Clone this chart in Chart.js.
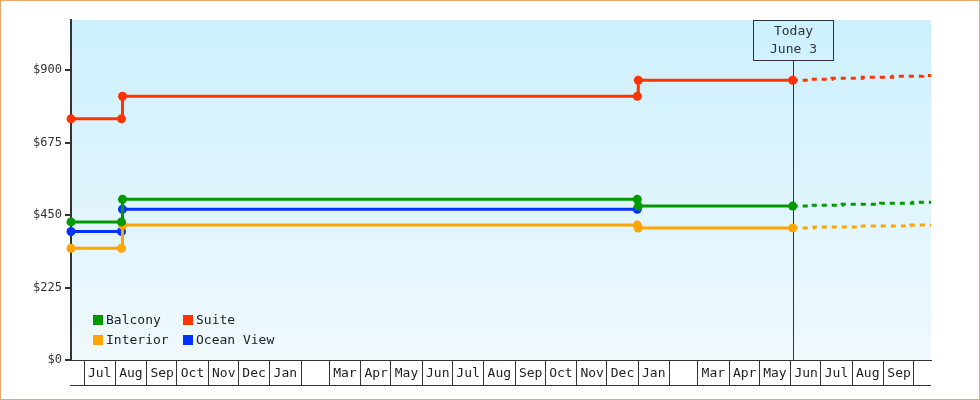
<!DOCTYPE html>
<html>
<head>
<meta charset="utf-8">
<script src="https://cdn.jsdelivr.net/npm/chart.js@4/dist/chart.umd.min.js"></script>
<style>
  html, body { margin: 0; padding: 0; background: #fff; }
  #wrap { width: 980px; height: 400px; }
</style>
</head>
<body>
<div id="wrap"><canvas id="c" width="980" height="400"></canvas></div>
<script>
// --- data (dates as yyyy-mm-dd, prices in dollars) ---
var balconyDates = ['2013-06-18','2013-08-07','2013-08-08','2014-12-31','2015-01-01','2015-06-03','2015-06-20','2015-07-22','2015-08-29','2015-09-30','2015-10-18'];
var balconyPrices = [429, 429, 499, 499, 478, 478, 481, 484, 487, 490, 490];

var suiteDates = ['2013-06-18','2013-08-07','2013-08-08','2014-12-31','2015-01-01','2015-06-03','2015-06-19','2015-07-12','2015-08-11','2015-09-10','2015-10-10','2015-10-18'];
var suitePrices = [749, 749, 819, 819, 869, 869, 872, 875, 878, 881, 884, 884];

var interiorDates = ['2013-06-18','2013-08-07','2013-08-08','2014-12-31','2015-01-01','2015-06-03','2015-06-24','2015-08-09','2015-09-28','2015-10-18'];
var interiorPrices = [347, 347, 419, 419, 410, 410, 413, 416, 419, 419];

var oceanDates = ['2013-06-18','2013-08-07','2013-08-08','2014-12-31'];
var oceanPrices = [399, 399, 468, 468];

var monthLabels = ['Jul','Aug','Sep','Oct','Nov','Dec','Jan','','Mar','Apr','May','Jun','Jul','Aug','Sep','Oct','Nov','Dec','Jan','','Mar','Apr','May','Jun','Jul','Aug','Sep',''];
var yTicks = [0, 225, 450, 675, 900];
var startDate = '2013-06-18', endDate = '2015-10-18', todayDate = '2015-06-03';
var todayText = ['Today', 'June 3'];

function day(s) {
  var p = s.split('-');
  return Date.UTC(+p[0], +p[1] - 1, +p[2]) / 86400000;
}
function pts(dates, prices) {
  return dates.map(function (d, i) { return { x: day(d), y: prices[i] }; });
}
var today = day(todayDate);
var monthStarts = monthLabels.map(function (l, i) { return Date.UTC(2013, 6 + i, 1) / 86400000; });

var FONT = '"DejaVu Sans Mono", monospace';

function series(label, color, dates, prices) {
  return {
    label: label,
    data: pts(dates, prices),
    borderColor: color,
    backgroundColor: color,
    borderWidth: 3,
    stepped: true,
    clip: false,
    pointRadius: function (c) { return c.raw && c.raw.x > today ? 0 : 4.5; },
    pointHoverRadius: 0,
    pointBorderWidth: 0,
    segment: {
      borderDash: function (c) { return c.p0.parsed.x >= today ? [5, 5] : undefined; }
    }
  };
}

var bgPlugin = {
  id: 'bg',
  beforeDraw: function (chart) {
    var ctx = chart.ctx, a = chart.chartArea;
    ctx.save();
    ctx.fillStyle = '#fff';
    ctx.fillRect(0, 0, chart.width, chart.height);
    var g = ctx.createLinearGradient(0, a.top, 0, a.bottom);
    g.addColorStop(0, '#ccf0fd');
    g.addColorStop(1, '#f0f9fe');
    ctx.fillStyle = g;
    ctx.fillRect(a.left, a.top, a.right - a.left, a.bottom - a.top);
    ctx.restore();
  },
  beforeDatasetsDraw: function (chart) {
    var ctx = chart.ctx, a = chart.chartArea;
    var x = Math.round(chart.scales.x.getPixelForValue(today)) + 0.5;
    ctx.save();
    ctx.strokeStyle = '#333';
    ctx.lineWidth = 1;
    ctx.beginPath();
    ctx.moveTo(x, a.top + 40);
    ctx.lineTo(x, a.bottom);
    ctx.stroke();
    ctx.strokeRect(x - 40, a.top + 0.5, 80, 40);
    ctx.fillStyle = '#333';
    ctx.font = '13px ' + FONT;
    ctx.textAlign = 'center';
    ctx.textBaseline = 'middle';
    ctx.fillText(todayText[0], x, a.top + 12);
    ctx.fillText(todayText[1], x, a.top + 30);
    ctx.restore();
  },
  afterDraw: function (chart) {
    var ctx = chart.ctx, a = chart.chartArea;
    ctx.save();
    // bottom edge of the month strip
    ctx.strokeStyle = '#333';
    ctx.lineWidth = 1;
    ctx.beginPath();
    ctx.moveTo(a.left - 1, a.bottom + 25.5);
    ctx.lineTo(a.right, a.bottom + 25.5);
    ctx.stroke();
    // legend inside the plot
    ctx.font = '13px ' + FONT;
    ctx.textBaseline = 'middle';
    ctx.textAlign = 'left';
    chart.data.datasets.forEach(function (ds, i) {
      var col = i % 2, row = Math.floor(i / 2);
      var x = a.left + 22 + col * 90, y = a.bottom - 45 + row * 20;
      ctx.fillStyle = ds.borderColor;
      ctx.fillRect(x, y, 10, 10);
      ctx.fillStyle = '#222';
      ctx.fillText(ds.label, x + 13, y + 5.5);
    });
    // outer frame
    ctx.strokeStyle = '#e8a868';
    ctx.strokeRect(0.5, 0.5, chart.width - 1, chart.height - 1);
    ctx.restore();
  }
};

new Chart(document.getElementById('c'), {
  type: 'line',
  data: {
    datasets: [
      series('Balcony', '#009900', balconyDates, balconyPrices),
      series('Suite', '#ff3300', suiteDates, suitePrices),
      series('Interior', '#ffa500', interiorDates, interiorPrices),
      series('Ocean View', '#0033ff', oceanDates, oceanPrices)
    ]
  },
  options: {
    responsive: false,
    animation: false,
    events: [],
    layout: { padding: { top: 20, right: 49, bottom: 0, left: 0 } },
    plugins: { legend: { display: false }, tooltip: { enabled: false } },
    scales: {
      x: {
        type: 'linear',
        min: day(startDate),
        max: day(endDate),
        afterBuildTicks: function (s) { s.ticks = monthStarts.map(function (v) { return { value: v }; }); },
        afterFit: function (s) { s.height = 40; },
        ticks: {
          autoSkip: false,
          maxRotation: 0,
          labelOffset: 15.5,
          padding: -19,
          color: '#222',
          font: { family: FONT, size: 13 },
          callback: function (v, i) { return monthLabels[i]; }
        },
        grid: { drawOnChartArea: false, tickLength: 25, color: '#333', lineWidth: 1 },
        border: { color: '#333', width: 1 }
      },
      y: {
        min: 0,
        max: 1056,
        afterBuildTicks: function (s) { s.ticks = yTicks.map(function (v) { return { value: v }; }); },
        afterFit: function (s) { s.width = 71; },
        ticks: {
          padding: 3,
          color: '#333',
          font: { family: FONT, size: 12 },
          callback: function (v) { return '$' + v; }
        },
        grid: { drawOnChartArea: false, tickLength: 6, color: '#333', lineWidth: 2 },
        border: { color: '#333', width: 2 }
      }
    }
  },
  plugins: [bgPlugin]
});
</script>
</body>
</html>
